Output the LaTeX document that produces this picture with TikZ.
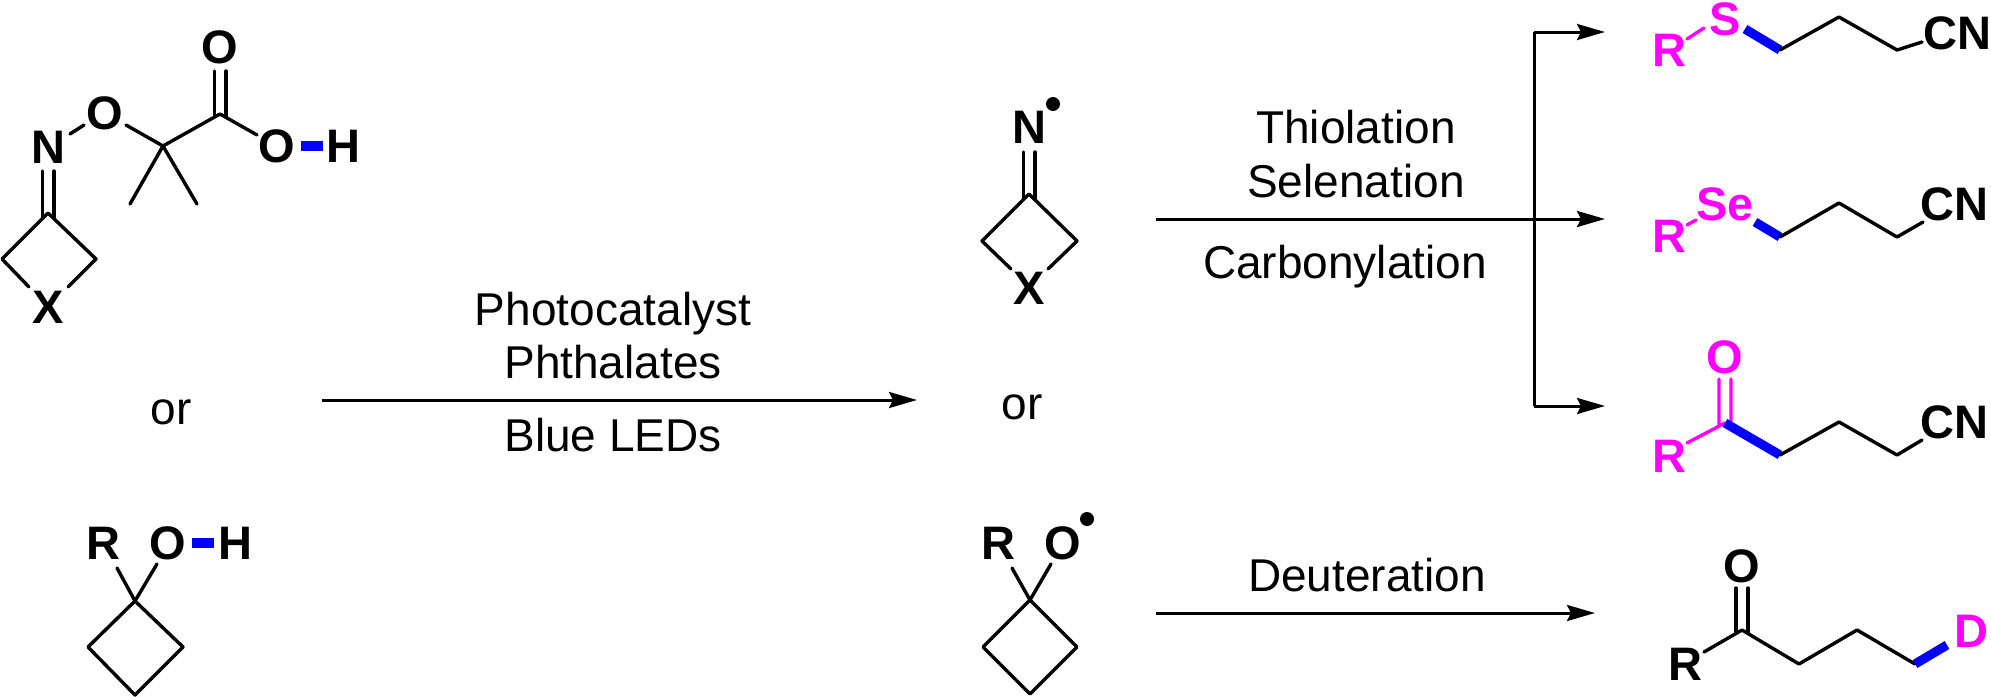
\documentclass[tikz,border=0pt]{standalone}
\usepackage{fontspec}
\setmainfont{Liberation Sans}
\usetikzlibrary{arrows.meta}
\definecolor{mag}{HTML}{FF00FF}
\definecolor{blu}{HTML}{0000FF}
\tikzset{
  x=0.5pt,y=-0.5pt,
  bond/.style={line width=1.7pt,line cap=round,line join=round,black},
  mbond/.style={line width=1.7pt,line cap=round,line join=round,mag},
  bbond/.style={line width=4.6pt,blu},
  rxn/.style={line width=1.5pt,-{Stealth[length=14pt,width=8pt,inset=2pt]}},
  atom/.style={inner sep=0pt,anchor=base,font=\fontsize{23.5}{23.5}\selectfont\bfseries},
  matom/.style={atom,text=mag},
  lab/.style={inner sep=0pt,anchor=base,font=\fontsize{23}{23}\selectfont},
  rad/.style={circle,fill=black,inner sep=0pt,minimum size=7pt},
}
\newcommand{\cc}[3]{\coordinate (#1) at (#2,#3);}
\begin{document}
\begin{tikzpicture}
\useasboundingbox (0,0) rectangle (1991,696);
% --- acid
\node[atom] (O1) at (220,63) {O};
\node[atom] (O2) at (105,129) {O};
\node[atom] (O3) at (277,162) {O};
\node[atom] (H3) at (343,162) {H};
\node[atom] (N1) at (48,163) {N};
\node[atom] (X1) at (48,323) {X};
\cc{a1}{214.5}{71}\cc{a2}{214.5}{116}\cc{a3}{226}{71}\cc{a4}{226}{116}
\cc{a5}{220}{114}\cc{a6}{257}{135}\cc{a7}{163}{146}\cc{a8}{126}{125}
\cc{a9}{84}{125}\cc{a10}{70}{134}\cc{a11}{130}{204}\cc{a12}{197}{204}
\cc{b1}{42.5}{171}\cc{b2}{42.5}{217}\cc{b3}{54}{171}\cc{b4}{54}{217}
\cc{b5}{48}{213}\cc{b6}{2}{259}\cc{b7}{96}{259}\cc{b8}{29}{287}\cc{b9}{68}{287}
\draw[bond] (a1)--(a2) (a3)--(a4);
\draw[bond] (a6)--(a5)--(a7)--(a8) (a9)--(a10) (a11)--(a7)--(a12);
\draw[bond] (b1)--(b2) (b3)--(b4);
\draw[bond] (b8)--(b6)--(b5)--(b7)--(b9);
\cc{h1}{301}{146}\cc{h2}{323}{146}
\draw[bbond] (h1)--(h2);
% --- or
\node[lab] (or1) at (171,424) {or};
% --- cyclobutanol
\node[atom] (R1) at (103,559) {R};
\node[atom] (O4) at (168,559) {O};
\node[atom] (H4) at (235,559) {H};
\cc{c1}{135}{601}\cc{c2}{117}{568}\cc{c3}{157}{564}\cc{c4}{88}{647}\cc{c5}{183}{647}\cc{c6}{135}{695}
\draw[bond] (c2)--(c1)--(c3);
\draw[bond] (c1)--(c4)--(c6)--(c5)--cycle;
\cc{h3}{192}{543}\cc{h4}{214}{543}
\draw[bbond] (h3)--(h4);
% --- first arrow
\cc{r1}{322}{400}\cc{r2}{917}{400}
\draw[rxn] (r1)--(r2);
\node[lab] (t1) at (613,325) {Photocatalyst};
\node[lab] (t2) at (613,378) {Phthalates};
\node[lab] (t3) at (613,451) {Blue LEDs};
% --- iminyl radical
\node[atom] (N2) at (1029,143) {N};
\node[rad] (d1) at (1053,104) {};
\node[atom] (X2) at (1029,304) {X};
\cc{e1}{1023.5}{152}\cc{e2}{1023.5}{198}\cc{e3}{1035}{152}\cc{e4}{1035}{198}
\cc{e5}{1029}{194}\cc{e6}{982}{241}\cc{e7}{1077}{241}\cc{e8}{1011}{269}\cc{e9}{1048}{269}
\draw[bond] (e1)--(e2) (e3)--(e4);
\draw[bond] (e8)--(e6)--(e5)--(e7)--(e9);
\node[lab] (or2) at (1022,419) {or};
% --- alkoxy radical
\node[atom] (R2) at (998,559) {R};
\node[atom] (O5) at (1063,559) {O};
\node[rad] (d2) at (1087,519) {};
\cc{f1}{1030}{600}\cc{f2}{1012}{568}\cc{f3}{1051}{564}\cc{f4}{983}{647}\cc{f5}{1077}{647}\cc{f6}{1030}{694}
\draw[bond] (f2)--(f1)--(f3);
\draw[bond] (f1)--(f4)--(f6)--(f5)--cycle;
% --- branching arrows
\cc{s1}{1156}{219}\cc{s2}{1605}{219}\cc{s3}{1534}{32}\cc{s4}{1605}{32}\cc{s5}{1534}{406}\cc{s6}{1605}{406}
\draw[rxn] (s1)--(s2);
\draw[rxn] (s3)--(s4);
\draw[rxn] (s5)--(s6);
\draw[line width=1.5pt] (s3)--(s5);
\node[lab] (t4) at (1356,143) {Thiolation};
\node[lab] (t5) at (1356,197) {Selenation};
\node[lab] (t6) at (1345,278) {Carbonylation};
\cc{s7}{1156}{613}\cc{s8}{1595}{613}
\draw[rxn] (s7)--(s8);
\node[lab] (t7) at (1367,591) {Deuteration};
% --- product S
\node[matom] (R3) at (1669,66) {R};
\node[matom] (S) at (1725,35) {S};
\node[atom] (CN1) at (1957,49) {CN};
\cc{g1}{1687}{39}\cc{g2}{1704}{28}\cc{g3}{1745}{29}\cc{g4}{1780}{50}\cc{g5}{1839}{17}\cc{g6}{1897}{50}\cc{g7}{1922}{42}
\draw[mbond] (g1)--(g2);
\draw[bbond] (g3)--(g4);
\draw[bond] (g4)--(g5)--(g6)--(g7);
% --- product Se
\node[matom] (R4) at (1669,252) {R};
\node[matom] (Se) at (1725,220) {Se};
\node[atom] (CN2) at (1954,220) {CN};
\cc{i1}{1687}{225}\cc{i2}{1696}{220}\cc{i3}{1755}{222}\cc{i4}{1780}{237}\cc{i5}{1839}{203}\cc{i6}{1897}{237}\cc{i7}{1923}{222}
\draw[mbond] (i1)--(i2);
\draw[bbond] (i3)--(i4);
\draw[bond] (i4)--(i5)--(i6)--(i7);
% --- product C=O
\node[matom] (O6) at (1725,373) {O};
\node[matom] (R5) at (1669,472) {R};
\node[atom] (CN3) at (1954,438) {CN};
\cc{j1}{1719}{379}\cc{j2}{1719}{426}\cc{j3}{1731}{379}\cc{j4}{1731}{426}
\cc{j5}{1725}{423}\cc{j6}{1687}{443}\cc{j7}{1780}{455}\cc{j8}{1839}{422}\cc{j9}{1897}{455}\cc{j10}{1922}{440}
\draw[mbond] (j1)--(j2) (j3)--(j4) (j6)--(j5);
\draw[bbond] (j5)--(j7);
\draw[bond] (j7)--(j8)--(j9)--(j10);
% --- product D
\node[atom] (O7) at (1742,582) {O};
\node[atom] (R6) at (1685,680) {R};
\node[matom] (D) at (1971,647) {D};
\cc{k1}{1736}{588}\cc{k2}{1736}{632}\cc{k3}{1748}{588}\cc{k4}{1748}{632}
\cc{k5}{1742}{630}\cc{k6}{1704}{652}\cc{k7}{1799}{664}\cc{k8}{1857}{630}\cc{k9}{1915}{664}\cc{k10}{1947}{645}
\draw[bond] (k1)--(k2) (k3)--(k4);
\draw[bond] (k6)--(k5)--(k7)--(k8)--(k9);
\draw[bbond] (k9)--(k10);
\end{tikzpicture}
\end{document}
